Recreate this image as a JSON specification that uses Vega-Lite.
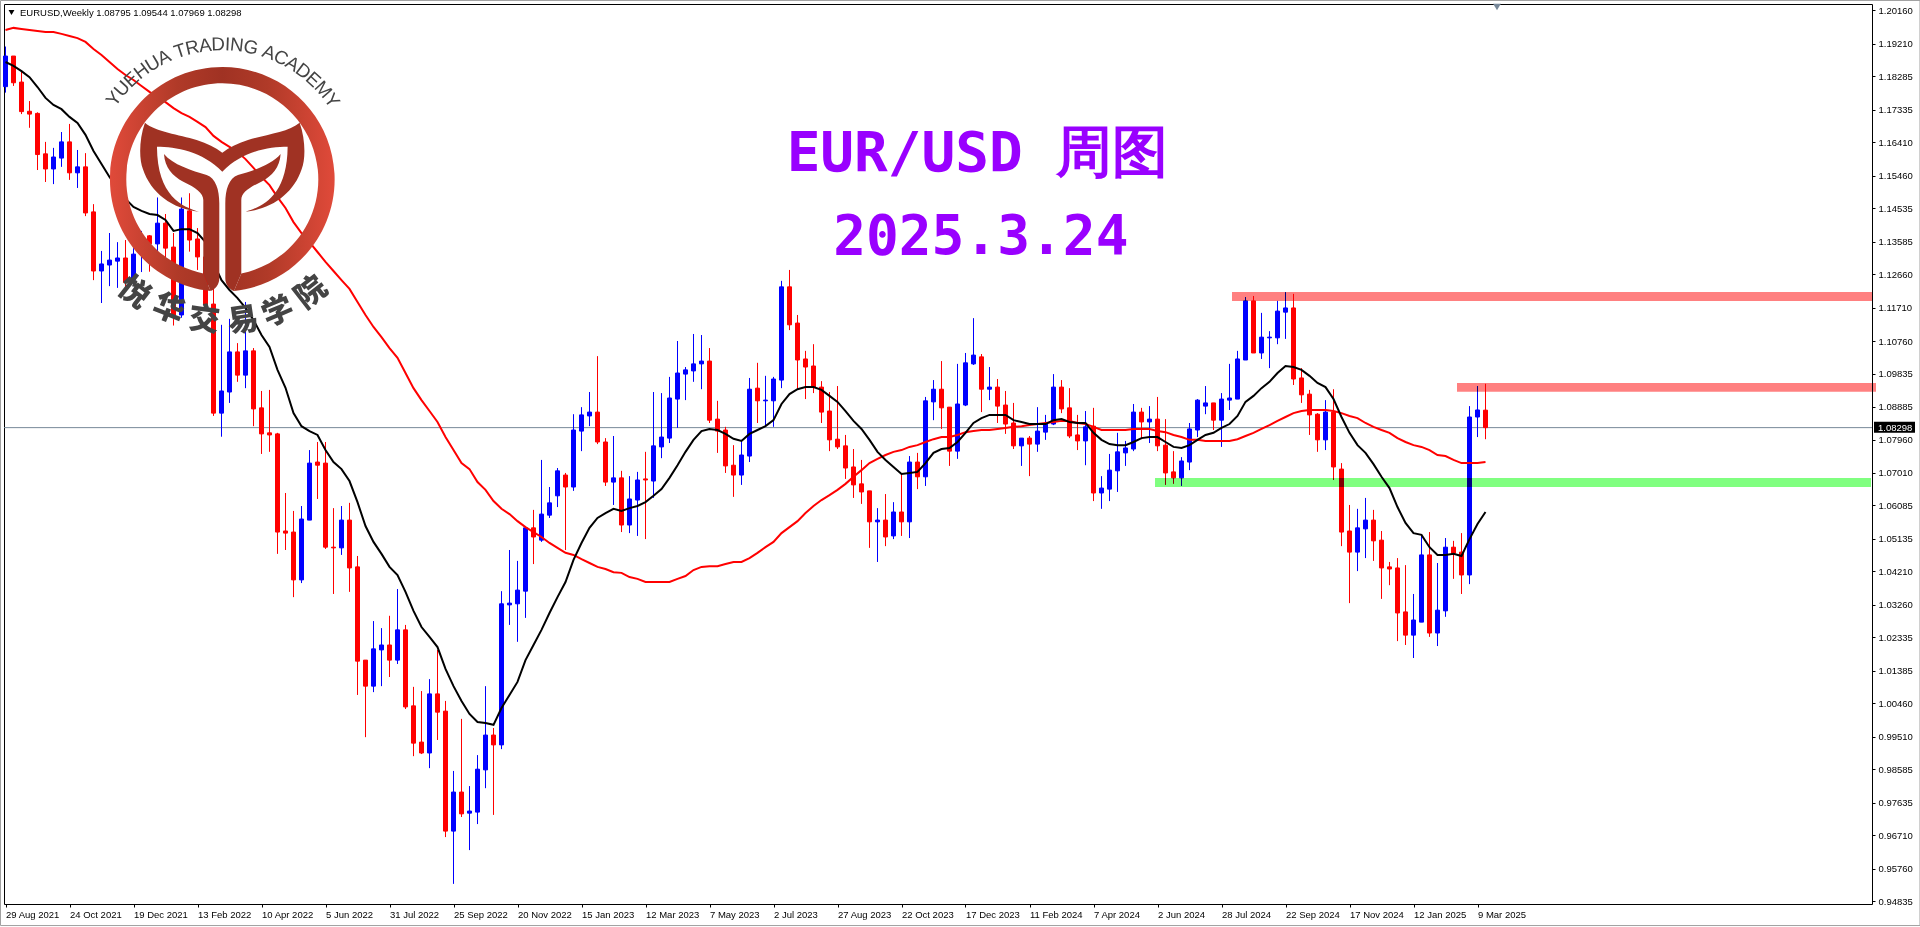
{"$schema":"https://vega.github.io/schema/vega-lite/v6.json","width":1868,"height":900,"autosize":{"type":"none"},"padding":{"left":4,"top":4,"right":48,"bottom":23},"background":"#ffffff","view":{"stroke":"#000000","strokeWidth":1,"fill":"#ffffff"},"config":{"scale":{"continuousPadding":0},"axis":{"labelOverlap":false,"labelSeparation":0}},
"datasets":{"candles":[
{"date":"2021-08-29","open":1.1799,"high":1.1913,"low":1.1782,"close":1.1886,"fast":1.1869,"slow":1.1960},
{"date":"2021-09-05","open":1.1886,"high":1.1886,"low":1.1801,"close":1.1810,"fast":1.1858,"slow":1.1966},
{"date":"2021-09-12","open":1.1812,"high":1.1841,"low":1.1721,"close":1.1728,"fast":1.1843,"slow":1.1963},
{"date":"2021-09-19","open":1.1729,"high":1.1758,"low":1.1682,"close":1.1721,"fast":1.1826,"slow":1.1960},
{"date":"2021-09-26","open":1.1723,"high":1.1726,"low":1.1562,"close":1.1606,"fast":1.1798,"slow":1.1957},
{"date":"2021-10-03","open":1.1608,"high":1.1642,"low":1.1528,"close":1.1565,"fast":1.1767,"slow":1.1954},
{"date":"2021-10-10","open":1.1565,"high":1.1625,"low":1.1522,"close":1.1599,"fast":1.1747,"slow":1.1954},
{"date":"2021-10-17","open":1.1596,"high":1.1670,"low":1.1571,"close":1.1642,"fast":1.1735,"slow":1.1949},
{"date":"2021-10-24","open":1.1642,"high":1.1693,"low":1.1534,"close":1.1554,"fast":1.1713,"slow":1.1943},
{"date":"2021-10-31","open":1.1554,"high":1.1619,"low":1.1511,"close":1.1571,"fast":1.1696,"slow":1.1937},
{"date":"2021-11-07","open":1.1571,"high":1.1610,"low":1.1431,"close":1.1440,"fast":1.1662,"slow":1.1926},
{"date":"2021-11-14","open":1.1443,"high":1.1465,"low":1.1249,"close":1.1275,"fast":1.1616,"slow":1.1906},
{"date":"2021-11-21","open":1.1275,"high":1.1332,"low":1.1184,"close":1.1295,"fast":1.1579,"slow":1.1889},
{"date":"2021-11-28","open":1.1292,"high":1.1383,"low":1.1232,"close":1.1306,"fast":1.1542,"slow":1.1869},
{"date":"2021-12-05","open":1.1303,"high":1.1357,"low":1.1227,"close":1.1312,"fast":1.1511,"slow":1.1849},
{"date":"2021-12-12","open":1.1312,"high":1.1363,"low":1.1221,"close":1.1242,"fast":1.1480,"slow":1.1832},
{"date":"2021-12-19","open":1.1249,"high":1.1340,"low":1.1232,"close":1.1323,"fast":1.1457,"slow":1.1818},
{"date":"2021-12-26","open":1.1323,"high":1.1389,"low":1.1272,"close":1.1375,"fast":1.1446,"slow":1.1801},
{"date":"2022-01-02","open":1.1375,"high":1.1377,"low":1.1273,"close":1.1352,"fast":1.1437,"slow":1.1784},
{"date":"2022-01-09","open":1.1352,"high":1.1484,"low":1.1330,"close":1.1411,"fast":1.1434,"slow":1.1770},
{"date":"2022-01-16","open":1.1411,"high":1.1437,"low":1.1312,"close":1.1340,"fast":1.1420,"slow":1.1755},
{"date":"2022-01-23","open":1.1343,"high":1.1383,"low":1.1120,"close":1.1150,"fast":1.1389,"slow":1.1738},
{"date":"2022-01-30","open":1.1150,"high":1.1484,"low":1.1142,"close":1.1451,"fast":1.1394,"slow":1.1724},
{"date":"2022-02-06","open":1.1446,"high":1.1496,"low":1.1330,"close":1.1363,"fast":1.1394,"slow":1.1713},
{"date":"2022-02-13","open":1.1366,"high":1.1397,"low":1.1278,"close":1.1315,"fast":1.1383,"slow":1.1699},
{"date":"2022-02-20","open":1.1315,"high":1.1335,"low":1.1177,"close":1.1178,"fast":1.1357,"slow":1.1684},
{"date":"2022-02-27","open":1.1181,"high":1.1226,"low":1.0863,"close":1.0871,"fast":1.1298,"slow":1.1659},
{"date":"2022-03-06","open":1.0871,"high":1.1122,"low":1.0804,"close":1.0934,"fast":1.1249,"slow":1.1642},
{"date":"2022-03-13","open":1.0931,"high":1.1139,"low":1.0900,"close":1.1045,"fast":1.1221,"slow":1.1628},
{"date":"2022-03-20","open":1.1045,"high":1.1070,"low":1.0960,"close":1.0979,"fast":1.1198,"slow":1.1613},
{"date":"2022-03-27","open":1.0979,"high":1.1187,"low":1.0942,"close":1.1048,"fast":1.1170,"slow":1.1593},
{"date":"2022-04-03","open":1.1048,"high":1.1056,"low":1.0834,"close":1.0883,"fast":1.1136,"slow":1.1568},
{"date":"2022-04-10","open":1.0886,"high":1.0934,"low":1.0755,"close":1.0812,"fast":1.1093,"slow":1.1542},
{"date":"2022-04-17","open":1.0815,"high":1.0937,"low":1.0761,"close":1.0809,"fast":1.1059,"slow":1.1519},
{"date":"2022-04-24","open":1.0812,"high":1.0815,"low":1.0471,"close":1.0533,"fast":1.0994,"slow":1.1485},
{"date":"2022-05-01","open":1.0536,"high":1.0644,"low":1.0482,"close":1.0530,"fast":1.0943,"slow":1.1454},
{"date":"2022-05-08","open":1.0533,"high":1.0593,"low":1.0348,"close":1.0397,"fast":1.0871,"slow":1.1414},
{"date":"2022-05-15","open":1.0397,"high":1.0607,"low":1.0388,"close":1.0570,"fast":1.0834,"slow":1.1383},
{"date":"2022-05-22","open":1.0567,"high":1.0766,"low":1.0567,"close":1.0729,"fast":1.0820,"slow":1.1357},
{"date":"2022-05-29","open":1.0732,"high":1.0789,"low":1.0627,"close":1.0723,"fast":1.0809,"slow":1.1329},
{"date":"2022-06-05","open":1.0729,"high":1.0789,"low":1.0485,"close":1.0490,"fast":1.0766,"slow":1.1301},
{"date":"2022-06-12","open":1.0490,"high":1.0601,"low":1.0357,"close":1.0488,"fast":1.0732,"slow":1.1275},
{"date":"2022-06-19","open":1.0488,"high":1.0607,"low":1.0468,"close":1.0567,"fast":1.0712,"slow":1.1249},
{"date":"2022-06-26","open":1.0567,"high":1.0616,"low":1.0363,"close":1.0431,"fast":1.0678,"slow":1.1224},
{"date":"2022-07-03","open":1.0434,"high":1.0465,"low":1.0070,"close":1.0166,"fast":1.0618,"slow":1.1187},
{"date":"2022-07-10","open":1.0169,"high":1.0169,"low":0.9950,"close":1.0095,"fast":1.0550,"slow":1.1150},
{"date":"2022-07-17","open":1.0095,"high":1.0280,"low":1.0078,"close":1.0201,"fast":1.0505,"slow":1.1116},
{"date":"2022-07-24","open":1.0198,"high":1.0260,"low":1.0095,"close":1.0212,"fast":1.0471,"slow":1.1087},
{"date":"2022-07-31","open":1.0212,"high":1.0295,"low":1.0121,"close":1.0169,"fast":1.0434,"slow":1.1056},
{"date":"2022-08-07","open":1.0169,"high":1.0371,"low":1.0158,"close":1.0255,"fast":1.0411,"slow":1.1028},
{"date":"2022-08-14","open":1.0255,"high":1.0269,"low":1.0030,"close":1.0036,"fast":1.0363,"slow":1.0985},
{"date":"2022-08-21","open":1.0039,"high":1.0093,"low":0.9896,"close":0.9933,"fast":1.0309,"slow":1.0942},
{"date":"2022-08-28","open":0.9936,"high":1.0081,"low":0.9902,"close":0.9905,"fast":1.0263,"slow":1.0908},
{"date":"2022-09-04","open":0.9905,"high":1.0115,"low":0.9862,"close":1.0073,"fast":1.0235,"slow":1.0877},
{"date":"2022-09-11","open":1.0073,"high":1.0198,"low":0.9942,"close":1.0021,"fast":1.0206,"slow":1.0846},
{"date":"2022-09-18","open":1.0024,"high":1.0053,"low":0.9666,"close":0.9683,"fast":1.0144,"slow":1.0803},
{"date":"2022-09-25","open":0.9683,"high":0.9854,"low":0.9533,"close":0.9794,"fast":1.0095,"slow":1.0766},
{"date":"2022-10-02","open":0.9794,"high":1.0002,"low":0.9723,"close":0.9732,"fast":1.0053,"slow":1.0729},
{"date":"2022-10-09","open":0.9734,"high":0.9811,"low":0.9629,"close":0.9740,"fast":1.0016,"slow":1.0712},
{"date":"2022-10-16","open":0.9737,"high":0.9899,"low":0.9703,"close":0.9859,"fast":0.9993,"slow":1.0675},
{"date":"2022-10-23","open":0.9857,"high":1.0095,"low":0.9805,"close":0.9956,"fast":0.9990,"slow":1.0653},
{"date":"2022-10-30","open":0.9956,"high":0.9976,"low":0.9729,"close":0.9928,"fast":0.9985,"slow":1.0621},
{"date":"2022-11-06","open":0.9928,"high":1.0365,"low":0.9916,"close":1.0329,"fast":1.0033,"slow":1.0599},
{"date":"2022-11-13","open":1.0326,"high":1.0482,"low":1.0269,"close":1.0331,"fast":1.0070,"slow":1.0584},
{"date":"2022-11-20","open":1.0329,"high":1.0451,"low":1.0221,"close":1.0368,"fast":1.0107,"slow":1.0564},
{"date":"2022-11-27","open":1.0365,"high":1.0545,"low":1.0289,"close":1.0545,"fast":1.0169,"slow":1.0547},
{"date":"2022-12-04","open":1.0545,"high":1.0596,"low":1.0442,"close":1.0519,"fast":1.0212,"slow":1.0533},
{"date":"2022-12-11","open":1.0510,"high":1.0738,"low":1.0505,"close":1.0584,"fast":1.0255,"slow":1.0519},
{"date":"2022-12-18","open":1.0581,"high":1.0661,"low":1.0573,"close":1.0616,"fast":1.0303,"slow":1.0502},
{"date":"2022-12-25","open":1.0636,"high":1.0715,"low":1.0604,"close":1.0707,"fast":1.0348,"slow":1.0488},
{"date":"2023-01-01","open":1.0695,"high":1.0701,"low":1.0482,"close":1.0661,"fast":1.0391,"slow":1.0474},
{"date":"2023-01-08","open":1.0661,"high":1.0868,"low":1.0650,"close":1.0823,"fast":1.0454,"slow":1.0468},
{"date":"2023-01-15","open":1.0820,"high":1.0888,"low":1.0763,"close":1.0866,"fast":1.0502,"slow":1.0456},
{"date":"2023-01-22","open":1.0863,"high":1.0931,"low":1.0834,"close":1.0874,"fast":1.0545,"slow":1.0445},
{"date":"2023-01-29","open":1.0874,"high":1.1033,"low":1.0783,"close":1.0789,"fast":1.0573,"slow":1.0434},
{"date":"2023-02-05","open":1.0789,"high":1.0800,"low":1.0664,"close":1.0675,"fast":1.0587,"slow":1.0428},
{"date":"2023-02-12","open":1.0675,"high":1.0806,"low":1.0610,"close":1.0687,"fast":1.0599,"slow":1.0419},
{"date":"2023-02-19","open":1.0687,"high":1.0707,"low":1.0533,"close":1.0553,"fast":1.0593,"slow":1.0417},
{"date":"2023-02-26","open":1.0553,"high":1.0692,"low":1.0530,"close":1.0627,"fast":1.0601,"slow":1.0405},
{"date":"2023-03-05","open":1.0624,"high":1.0704,"low":1.0522,"close":1.0681,"fast":1.0607,"slow":1.0400},
{"date":"2023-03-12","open":1.0684,"high":1.0761,"low":1.0513,"close":1.0681,"fast":1.0618,"slow":1.0391},
{"date":"2023-03-19","open":1.0678,"high":1.0931,"low":1.0630,"close":1.0778,"fast":1.0636,"slow":1.0391},
{"date":"2023-03-26","open":1.0775,"high":1.0928,"low":1.0743,"close":1.0803,"fast":1.0655,"slow":1.0391},
{"date":"2023-04-02","open":1.0800,"high":1.0974,"low":1.0786,"close":1.0914,"fast":1.0687,"slow":1.0391},
{"date":"2023-04-09","open":1.0911,"high":1.1076,"low":1.0829,"close":1.0985,"fast":1.0723,"slow":1.0400},
{"date":"2023-04-16","open":1.0982,"high":1.1002,"low":1.0908,"close":1.0994,"fast":1.0761,"slow":1.0408},
{"date":"2023-04-23","open":1.0991,"high":1.1096,"low":1.0960,"close":1.1011,"fast":1.0795,"slow":1.0425},
{"date":"2023-04-30","open":1.1011,"high":1.1093,"low":1.0939,"close":1.1019,"fast":1.0820,"slow":1.0434},
{"date":"2023-05-07","open":1.1019,"high":1.1056,"low":1.0843,"close":1.0851,"fast":1.0826,"slow":1.0436},
{"date":"2023-05-14","open":1.0854,"high":1.0906,"low":1.0758,"close":1.0820,"fast":1.0823,"slow":1.0436},
{"date":"2023-05-21","open":1.0823,"high":1.0832,"low":1.0701,"close":1.0721,"fast":1.0812,"slow":1.0442},
{"date":"2023-05-28","open":1.0723,"high":1.0780,"low":1.0633,"close":1.0695,"fast":1.0798,"slow":1.0448},
{"date":"2023-06-04","open":1.0695,"high":1.0795,"low":1.0667,"close":1.0752,"fast":1.0792,"slow":1.0448},
{"date":"2023-06-11","open":1.0749,"high":1.0971,"low":1.0732,"close":1.0939,"fast":1.0812,"slow":1.0459},
{"date":"2023-06-18","open":1.0942,"high":1.1014,"low":1.0843,"close":1.0906,"fast":1.0823,"slow":1.0474},
{"date":"2023-06-25","open":1.0906,"high":1.0977,"low":1.0834,"close":1.0908,"fast":1.0834,"slow":1.0490},
{"date":"2023-07-02","open":1.0906,"high":1.0974,"low":1.0832,"close":1.0968,"fast":1.0851,"slow":1.0505},
{"date":"2023-07-09","open":1.0965,"high":1.1247,"low":1.0942,"close":1.1230,"fast":1.0897,"slow":1.0530},
{"date":"2023-07-16","open":1.1230,"high":1.1278,"low":1.1107,"close":1.1122,"fast":1.0925,"slow":1.0547},
{"date":"2023-07-23","open":1.1127,"high":1.1150,"low":1.0939,"close":1.1022,"fast":1.0939,"slow":1.0564},
{"date":"2023-07-30","open":1.1025,"high":1.1048,"low":1.0911,"close":1.1002,"fast":1.0945,"slow":1.0587},
{"date":"2023-08-06","open":1.1005,"high":1.1067,"low":1.0928,"close":1.0945,"fast":1.0945,"slow":1.0607},
{"date":"2023-08-13","open":1.0945,"high":1.0962,"low":1.0843,"close":1.0874,"fast":1.0937,"slow":1.0624},
{"date":"2023-08-20","open":1.0877,"high":1.0931,"low":1.0763,"close":1.0795,"fast":1.0920,"slow":1.0638},
{"date":"2023-08-27","open":1.0797,"high":1.0948,"low":1.0769,"close":1.0775,"fast":1.0903,"slow":1.0653},
{"date":"2023-09-03","open":1.0778,"high":1.0809,"low":1.0684,"close":1.0715,"fast":1.0877,"slow":1.0670},
{"date":"2023-09-10","open":1.0718,"high":1.0769,"low":1.0630,"close":1.0667,"fast":1.0849,"slow":1.0690},
{"date":"2023-09-17","open":1.0670,"high":1.0738,"low":1.0613,"close":1.0647,"fast":1.0826,"slow":1.0709},
{"date":"2023-09-24","open":1.0650,"high":1.0650,"low":1.0488,"close":1.0562,"fast":1.0795,"slow":1.0729},
{"date":"2023-10-01","open":1.0562,"high":1.0601,"low":1.0448,"close":1.0567,"fast":1.0761,"slow":1.0741},
{"date":"2023-10-08","open":1.0567,"high":1.0641,"low":1.0493,"close":1.0519,"fast":1.0738,"slow":1.0752},
{"date":"2023-10-15","open":1.0522,"high":1.0618,"low":1.0513,"close":1.0590,"fast":1.0718,"slow":1.0761},
{"date":"2023-10-22","open":1.0590,"high":1.0698,"low":1.0522,"close":1.0562,"fast":1.0698,"slow":1.0766},
{"date":"2023-10-29","open":1.0562,"high":1.0749,"low":1.0516,"close":1.0732,"fast":1.0701,"slow":1.0775},
{"date":"2023-11-05","open":1.0732,"high":1.0758,"low":1.0655,"close":1.0690,"fast":1.0704,"slow":1.0780},
{"date":"2023-11-12","open":1.0690,"high":1.0917,"low":1.0664,"close":1.0906,"fast":1.0729,"slow":1.0789},
{"date":"2023-11-19","open":1.0903,"high":1.0965,"low":1.0851,"close":1.0939,"fast":1.0758,"slow":1.0797},
{"date":"2023-11-26","open":1.0939,"high":1.1019,"low":1.0826,"close":1.0886,"fast":1.0769,"slow":1.0803},
{"date":"2023-12-03","open":1.0888,"high":1.0888,"low":1.0721,"close":1.0763,"fast":1.0772,"slow":1.0803},
{"date":"2023-12-10","open":1.0763,"high":1.1011,"low":1.0741,"close":1.0897,"fast":1.0789,"slow":1.0809},
{"date":"2023-12-17","open":1.0894,"high":1.1042,"low":1.0891,"close":1.1014,"fast":1.0815,"slow":1.0817},
{"date":"2023-12-24","open":1.1011,"high":1.1141,"low":1.1008,"close":1.1036,"fast":1.0843,"slow":1.0820},
{"date":"2023-12-31","open":1.1031,"high":1.1039,"low":1.0874,"close":1.0939,"fast":1.0857,"slow":1.0823},
{"date":"2024-01-07","open":1.0939,"high":1.1002,"low":1.0908,"close":1.0945,"fast":1.0866,"slow":1.0823},
{"date":"2024-01-14","open":1.0945,"high":1.0968,"low":1.0843,"close":1.0891,"fast":1.0866,"slow":1.0826},
{"date":"2024-01-21","open":1.0894,"high":1.0934,"low":1.0812,"close":1.0840,"fast":1.0866,"slow":1.0829},
{"date":"2024-01-28","open":1.0843,"high":1.0900,"low":1.0769,"close":1.0778,"fast":1.0851,"slow":1.0832},
{"date":"2024-02-04","open":1.0778,"high":1.0800,"low":1.0721,"close":1.0800,"fast":1.0846,"slow":1.0834},
{"date":"2024-02-11","open":1.0800,"high":1.0806,"low":1.0692,"close":1.0783,"fast":1.0840,"slow":1.0837},
{"date":"2024-02-18","open":1.0783,"high":1.0888,"low":1.0761,"close":1.0820,"fast":1.0840,"slow":1.0840},
{"date":"2024-02-25","open":1.0817,"high":1.0866,"low":1.0795,"close":1.0840,"fast":1.0840,"slow":1.0843},
{"date":"2024-03-03","open":1.0840,"high":1.0982,"low":1.0837,"close":1.0945,"fast":1.0851,"slow":1.0846},
{"date":"2024-03-10","open":1.0945,"high":1.0965,"low":1.0871,"close":1.0883,"fast":1.0854,"slow":1.0849},
{"date":"2024-03-17","open":1.0886,"high":1.0942,"low":1.0800,"close":1.0806,"fast":1.0846,"slow":1.0849},
{"date":"2024-03-24","open":1.0809,"high":1.0866,"low":1.0766,"close":1.0792,"fast":1.0843,"slow":1.0843},
{"date":"2024-03-31","open":1.0792,"high":1.0877,"low":1.0723,"close":1.0832,"fast":1.0843,"slow":1.0840},
{"date":"2024-04-07","open":1.0834,"high":1.0886,"low":1.0621,"close":1.0644,"fast":1.0815,"slow":1.0832},
{"date":"2024-04-14","open":1.0644,"high":1.0692,"low":1.0599,"close":1.0658,"fast":1.0795,"slow":1.0823},
{"date":"2024-04-21","open":1.0655,"high":1.0755,"low":1.0621,"close":1.0709,"fast":1.0783,"slow":1.0823},
{"date":"2024-04-28","open":1.0707,"high":1.0815,"low":1.0647,"close":1.0761,"fast":1.0780,"slow":1.0823},
{"date":"2024-05-05","open":1.0758,"high":1.0792,"low":1.0721,"close":1.0772,"fast":1.0780,"slow":1.0823},
{"date":"2024-05-12","open":1.0769,"high":1.0897,"low":1.0763,"close":1.0874,"fast":1.0789,"slow":1.0826},
{"date":"2024-05-19","open":1.0874,"high":1.0886,"low":1.0797,"close":1.0846,"fast":1.0800,"slow":1.0826},
{"date":"2024-05-26","open":1.0846,"high":1.0891,"low":1.0786,"close":1.0854,"fast":1.0803,"slow":1.0826},
{"date":"2024-06-02","open":1.0854,"high":1.0917,"low":1.0763,"close":1.0778,"fast":1.0803,"slow":1.0820},
{"date":"2024-06-09","open":1.0780,"high":1.0854,"low":1.0667,"close":1.0701,"fast":1.0789,"slow":1.0817},
{"date":"2024-06-16","open":1.0704,"high":1.0763,"low":1.0670,"close":1.0687,"fast":1.0775,"slow":1.0809},
{"date":"2024-06-23","open":1.0687,"high":1.0746,"low":1.0664,"close":1.0735,"fast":1.0772,"slow":1.0803},
{"date":"2024-06-30","open":1.0732,"high":1.0843,"low":1.0709,"close":1.0826,"fast":1.0780,"slow":1.0795},
{"date":"2024-07-07","open":1.0823,"high":1.0911,"low":1.0803,"close":1.0908,"fast":1.0795,"slow":1.0795},
{"date":"2024-07-14","open":1.0891,"high":1.0948,"low":1.0868,"close":1.0900,"fast":1.0809,"slow":1.0792},
{"date":"2024-07-21","open":1.0900,"high":1.0900,"low":1.0823,"close":1.0851,"fast":1.0815,"slow":1.0792},
{"date":"2024-07-28","open":1.0851,"high":1.0928,"low":1.0775,"close":1.0911,"fast":1.0829,"slow":1.0792},
{"date":"2024-08-04","open":1.0908,"high":1.1011,"low":1.0880,"close":1.0914,"fast":1.0840,"slow":1.0792},
{"date":"2024-08-11","open":1.0911,"high":1.1048,"low":1.0911,"close":1.1025,"fast":1.0863,"slow":1.0797},
{"date":"2024-08-18","open":1.1022,"high":1.1201,"low":1.1022,"close":1.1190,"fast":1.0903,"slow":1.0806},
{"date":"2024-08-25","open":1.1190,"high":1.1204,"low":1.1042,"close":1.1042,"fast":1.0920,"slow":1.0815},
{"date":"2024-09-01","open":1.1042,"high":1.1156,"low":1.1025,"close":1.1087,"fast":1.0942,"slow":1.0826},
{"date":"2024-09-08","open":1.1085,"high":1.1104,"low":1.0999,"close":1.1087,"fast":1.0960,"slow":1.0837},
{"date":"2024-09-15","open":1.1085,"high":1.1190,"low":1.1067,"close":1.1161,"fast":1.0985,"slow":1.0849},
{"date":"2024-09-22","open":1.1158,"high":1.1215,"low":1.1082,"close":1.1170,"fast":1.1005,"slow":1.0860},
{"date":"2024-09-29","open":1.1170,"high":1.1210,"low":1.0951,"close":1.0968,"fast":1.1002,"slow":1.0871},
{"date":"2024-10-06","open":1.0971,"high":1.0999,"low":1.0900,"close":1.0923,"fast":1.0994,"slow":1.0877},
{"date":"2024-10-13","open":1.0925,"high":1.0937,"low":1.0809,"close":1.0866,"fast":1.0977,"slow":1.0880},
{"date":"2024-10-20","open":1.0868,"high":1.0871,"low":1.0761,"close":1.0795,"fast":1.0957,"slow":1.0880},
{"date":"2024-10-27","open":1.0795,"high":1.0908,"low":1.0766,"close":1.0874,"fast":1.0945,"slow":1.0880},
{"date":"2024-11-03","open":1.0874,"high":1.0939,"low":1.0681,"close":1.0718,"fast":1.0911,"slow":1.0877},
{"date":"2024-11-10","open":1.0712,"high":1.0729,"low":1.0493,"close":1.0533,"fast":1.0860,"slow":1.0871},
{"date":"2024-11-17","open":1.0536,"high":1.0610,"low":1.0331,"close":1.0476,"fast":1.0815,"slow":1.0863},
{"date":"2024-11-24","open":1.0476,"high":1.0599,"low":1.0422,"close":1.0545,"fast":1.0780,"slow":1.0857},
{"date":"2024-12-01","open":1.0542,"high":1.0630,"low":1.0459,"close":1.0567,"fast":1.0758,"slow":1.0843},
{"date":"2024-12-08","open":1.0567,"high":1.0596,"low":1.0451,"close":1.0508,"fast":1.0726,"slow":1.0832},
{"date":"2024-12-15","open":1.0510,"high":1.0536,"low":1.0343,"close":1.0431,"fast":1.0690,"slow":1.0823},
{"date":"2024-12-22","open":1.0434,"high":1.0448,"low":1.0382,"close":1.0428,"fast":1.0658,"slow":1.0815},
{"date":"2024-12-29","open":1.0431,"high":1.0459,"low":1.0223,"close":1.0303,"fast":1.0604,"slow":1.0800},
{"date":"2025-01-05","open":1.0306,"high":1.0439,"low":1.0212,"close":1.0240,"fast":1.0559,"slow":1.0789},
{"date":"2025-01-12","open":1.0240,"high":1.0357,"low":1.0175,"close":1.0283,"fast":1.0530,"slow":1.0780},
{"date":"2025-01-19","open":1.0277,"high":1.0525,"low":1.0277,"close":1.0468,"fast":1.0525,"slow":1.0775},
{"date":"2025-01-26","open":1.0468,"high":1.0533,"low":1.0235,"close":1.0246,"fast":1.0490,"slow":1.0766},
{"date":"2025-02-02","open":1.0246,"high":1.0445,"low":1.0209,"close":1.0311,"fast":1.0468,"slow":1.0752},
{"date":"2025-02-09","open":1.0309,"high":1.0516,"low":1.0292,"close":1.0490,"fast":1.0468,"slow":1.0749},
{"date":"2025-02-16","open":1.0490,"high":1.0508,"low":1.0400,"close":1.0473,"fast":1.0471,"slow":1.0738},
{"date":"2025-02-23","open":1.0476,"high":1.0530,"low":1.0357,"close":1.0411,"fast":1.0465,"slow":1.0729},
{"date":"2025-03-02","open":1.0411,"high":1.0891,"low":1.0385,"close":1.0860,"fast":1.0513,"slow":1.0729},
{"date":"2025-03-09","open":1.0860,"high":1.0948,"low":1.0803,"close":1.0880,"fast":1.0556,"slow":1.0729},
{"date":"2025-03-16","open":1.08795,"high":1.09544,"low":1.07969,"close":1.08298,"fast":1.0590,"slow":1.0732}
]},
"layer":[
{"data":{"values":[{"from":1629817200000,"to":1774931400000,"top":1.20439,"bottom":0.94146}]},"mark":{"type":"rect","fillOpacity":0,"stroke":"#a0a0a0","strokeWidth":1},"encoding":{"x":{"field":"from","type":"temporal","scale":{"type":"utc","domain":[1630081800000,1771302600000]},"axis":{"values":[1630195200000,1635033600000,1639872000000,1644710400000,1649548800000,1654387200000,1659225600000,1664064000000,1668902400000,1673740800000,1678579200000,1683417600000,1688256000000,1693094400000,1697932800000,1702771200000,1707609600000,1712448000000,1717286400000,1722124800000,1726963200000,1731801600000,1736640000000,1741478400000],"tickCount":60,"format":"%-d %b %Y","title":null,"grid":false,"domain":false,"tickColor":"#000000","tickSize":3,"labelFont":"Liberation Sans","labelFontSize":9.5,"labelColor":"#000000","labelAlign":"left","labelPadding":2,"labelOverlap":false,"labelFlush":false,"labelBound":false}},"x2":{"field":"to"},"y":{"field":"top","type":"quantitative","scale":{"zero":false,"nice":false,"domain":[0.94758,1.20339]},"axis":{"orient":"right","values":[1.2016,1.1921,1.18285,1.17335,1.1641,1.1546,1.14535,1.13585,1.1266,1.1171,1.1076,1.09835,1.08885,1.0796,1.0701,1.06085,1.05135,1.0421,1.0326,1.02335,1.01385,1.0046,0.9951,0.98585,0.97635,0.9671,0.9576,0.94835],"tickCount":60,"format":".5f","title":null,"grid":false,"domain":false,"tickColor":"#000000","tickSize":3,"labelFont":"Liberation Sans","labelFontSize":9.5,"labelColor":"#000000","labelPadding":3,"labelOverlap":false,"labelBound":false}},"y2":{"field":"bottom"}}},
{"data":{"values":[{"from":1630081800000,"to":1771302600000,"price":1.08298}]},"mark":{"type":"rule","color":"#778899","strokeWidth":1},"encoding":{"x":{"field":"from","type":"temporal","scale":{"type":"utc","domain":[1630081800000,1771302600000]}},"x2":{"field":"to"},"y":{"field":"price","type":"quantitative","scale":{"zero":false,"nice":false,"domain":[0.94758,1.20339]}}}},
{"data":{"name":"candles"},"mark":{"type":"rule","strokeWidth":1},"encoding":{"x":{"field":"date","type":"temporal","scale":{"type":"utc","domain":[1630081800000,1771302600000]}},"y":{"field":"low","type":"quantitative","scale":{"zero":false,"nice":false,"domain":[0.94758,1.20339]}},"y2":{"field":"high"},"color":{"condition":{"test":"datum.close >= datum.open","value":"#0000ff"},"value":"#ff0000"}}},
{"data":{"name":"candles"},"mark":{"type":"bar","width":4,"strokeWidth":1},"encoding":{"x":{"field":"date","type":"temporal","scale":{"type":"utc","domain":[1630081800000,1771302600000]}},"y":{"field":"open","type":"quantitative","scale":{"zero":false,"nice":false,"domain":[0.94758,1.20339]}},"y2":{"field":"close"},"fill":{"condition":{"test":"datum.close >= datum.open","value":"#0000ff"},"value":"#ff0000"},"stroke":{"condition":{"test":"datum.close >= datum.open","value":"#0000ff"},"value":"#ff0000"}}},
{"data":{"name":"candles"},"mark":{"type":"line","color":"#ff0000","strokeWidth":2,"interpolate":"linear"},"encoding":{"x":{"field":"date","type":"temporal","scale":{"type":"utc","domain":[1630081800000,1771302600000]}},"y":{"field":"slow","type":"quantitative","scale":{"zero":false,"nice":false,"domain":[0.94758,1.20339]}}}},
{"data":{"name":"candles"},"mark":{"type":"line","color":"#000000","strokeWidth":2,"interpolate":"linear"},"encoding":{"x":{"field":"date","type":"temporal","scale":{"type":"utc","domain":[1630081800000,1771302600000]}},"y":{"field":"fast","type":"quantitative","scale":{"zero":false,"nice":false,"domain":[0.94758,1.20339]}}}},
{"data":{"values":[{"kind":"resistance","from":1722918600000,"to":1771302600000,"top":1.12153,"bottom":1.11897},{"kind":"resistance","from":1739928600000,"to":1771605000000,"top":1.09566,"bottom":1.09319},{"kind":"support","from":1717097400000,"to":1771227000000,"top":1.06866,"bottom":1.0661}]},"mark":{"type":"rect","blend":"multiply"},"encoding":{"x":{"field":"from","type":"temporal","scale":{"type":"utc","domain":[1630081800000,1771302600000]}},"x2":{"field":"to"},"y":{"field":"top","type":"quantitative","scale":{"zero":false,"nice":false,"domain":[0.94758,1.20339]}},"y2":{"field":"bottom"},"color":{"field":"kind","type":"nominal","legend":null,"scale":{"domain":["resistance","support"],"range":["#ff8080","#80ff80"]}}}},
{"data":{"values":[{"from":1771453800000,"to":1774553400000,"top":1.08466,"bottom":1.08154}]},"mark":{"type":"rect","color":"#000000"},"encoding":{"x":{"field":"from","type":"temporal","scale":{"type":"utc","domain":[1630081800000,1771302600000]}},"x2":{"field":"to"},"y":{"field":"top","type":"quantitative","scale":{"zero":false,"nice":false,"domain":[0.94758,1.20339]}},"y2":{"field":"bottom"}}},
{"data":{"values":[{"at":1771756200000,"price":1.08298,"label":"1.08298"}]},"mark":{"type":"text","align":"left","baseline":"middle","font":"Liberation Sans","fontSize":9.5,"color":"#ffffff"},"encoding":{"x":{"field":"at","type":"temporal","scale":{"type":"utc","domain":[1630081800000,1771302600000]}},"y":{"field":"price","type":"quantitative","scale":{"zero":false,"nice":false,"domain":[0.94758,1.20339]}},"text":{"field":"label"}}},
{"data":{"values":[{"at":1631291400000,"price":1.19998,"label":"EURUSD,Weekly  1.08795 1.09544 1.07969 1.08298"}]},"mark":{"type":"text","align":"left","baseline":"alphabetic","font":"Liberation Sans","fontSize":9.5,"color":"#000000"},"encoding":{"x":{"field":"at","type":"temporal","scale":{"type":"utc","domain":[1630081800000,1771302600000]}},"y":{"field":"price","type":"quantitative","scale":{"zero":false,"nice":false,"domain":[0.94758,1.20339]}},"text":{"field":"label"}}},
{"data":{"values":[{"at":1630648800000,"price":1.20098}]},"mark":{"type":"point","shape":"triangle-down","filled":true,"size":35,"color":"#000000","opacity":1},"encoding":{"x":{"field":"at","type":"temporal","scale":{"type":"utc","domain":[1630081800000,1771302600000]}},"y":{"field":"price","type":"quantitative","scale":{"zero":false,"nice":false,"domain":[0.94758,1.20339]}}}},
{"data":{"values":[{"at":1742952600000,"price":1.20254}]},"mark":{"type":"point","shape":"triangle-down","filled":true,"size":60,"color":"#778899","opacity":1},"encoding":{"x":{"field":"at","type":"temporal","scale":{"type":"utc","domain":[1630081800000,1771302600000]}},"y":{"field":"price","type":"quantitative","scale":{"zero":false,"nice":false,"domain":[0.94758,1.20339]}}}},
{"data":{"values":[{"at":1703678400000,"price":1.15601,"label":"EUR/USD 周图"}]},"mark":{"type":"text","align":"center","baseline":"alphabetic","font":"DejaVu Sans Mono","fontWeight":"bold","fontSize":56,"color":"#9900ff"},"encoding":{"x":{"field":"at","type":"temporal","scale":{"type":"utc","domain":[1630081800000,1771302600000]}},"y":{"field":"price","type":"quantitative","scale":{"zero":false,"nice":false,"domain":[0.94758,1.20339]}},"text":{"field":"label"}}},
{"data":{"values":[{"at":1703928960000,"price":1.13233,"label":"2025.3.24"}]},"mark":{"type":"text","align":"center","baseline":"alphabetic","font":"DejaVu Sans Mono","fontWeight":"bold","fontSize":54.5,"color":"#9900ff"},"encoding":{"x":{"field":"at","type":"temporal","scale":{"type":"utc","domain":[1630081800000,1771302600000]}},"y":{"field":"price","type":"quantitative","scale":{"zero":false,"nice":false,"domain":[0.94758,1.20339]}},"text":{"field":"label"}}},
{"data":{"values":[{"at":1646585280000,"price":1.15356}]},"mark":{"type":"point","filled":true,"opacity":1,"size":4444.4,"strokeWidth":0,"shape":"M-0.35,3.352A3.37,3.37,0,1,1,0.35,3.352L0.57,2.823A2.88,2.88,0,1,0,-0.57,2.823Z","fill":{"gradient":"linear","x1":0,"y1":0,"x2":1,"y2":0,"stops":[{"offset":0,"color":"#e04a3a"},{"offset":0.3,"color":"#b03a28"},{"offset":0.5,"color":"#a03223"},{"offset":0.7,"color":"#b03a28"},{"offset":1,"color":"#e04a3a"}]}},"encoding":{"x":{"field":"at","type":"temporal","scale":{"type":"utc","domain":[1630081800000,1771302600000]}},"y":{"field":"price","type":"quantitative","scale":{"zero":false,"nice":false,"domain":[0.94758,1.20339]}}}},
{"data":{"values":[{"at":1646585280000,"price":1.15356}]},"mark":{"type":"point","filled":true,"opacity":1,"size":4444.4,"strokeWidth":0,"color":"#a03223","shape":"M-2.32,-1.7C-2,-1.42,-1.3,-1.35,-0.77,-1.18C-0.45,-1.08,-0.2,-0.95,0,-0.8C0.2,-0.95,0.45,-1.08,0.77,-1.18C1.3,-1.35,2,-1.42,2.32,-1.7C2.5,-1.2,2.5,-0.6,2.38,-0.3C2.15,0.4,1.5,0.9,0.7,0.97C1.2,0.82,1.95,0.5,1.96,-0.98C1.4,-0.98,0.6,-0.85,0,-0.23C-0.6,-0.85,-1.4,-0.98,-1.96,-0.98C-1.95,0.5,-1.2,0.82,-0.7,0.97C-1.5,0.9,-2.15,0.4,-2.38,-0.3C-2.5,-0.6,-2.5,-1.2,-2.32,-1.7ZM-1.75,-0.76C-1.5,-0.45,-0.9,-0.25,-0.47,-0.13C-0.2,-0.03,-0.09,0.3,-0.09,0.72L-0.09,2.97C-0.09,3.15,-0.2,3.3,-0.35,3.352L-0.57,2.823L-0.57,0.62C-0.57,0.4,-0.8,0.25,-1.17,0.07C-1.5,-0.1,-1.72,-0.35,-1.75,-0.76ZM1.75,-0.76C1.5,-0.45,0.9,-0.25,0.47,-0.13C0.2,-0.03,0.09,0.3,0.09,0.72L0.09,2.97C0.09,3.15,0.2,3.3,0.35,3.352L0.57,2.823L0.57,0.62C0.57,0.4,0.8,0.25,1.17,0.07C1.5,-0.1,1.72,-0.35,1.75,-0.76Z"},"encoding":{"x":{"field":"at","type":"temporal","scale":{"type":"utc","domain":[1630081800000,1771302600000]}},"y":{"field":"price","type":"quantitative","scale":{"zero":false,"nice":false,"domain":[0.94758,1.20339]}}}},
{"data":{"values":[{"label":"Y","at":1638390200000,"price":1.17645,"tilt":-53.4},{"label":"U","at":1639017700000,"price":1.17932,"tilt":-47.86},{"label":"E","at":1639713200000,"price":1.18193,"tilt":-42.32},{"label":"H","at":1640476800000,"price":1.18429,"tilt":-36.78},{"label":"U","at":1641323500000,"price":1.18645,"tilt":-31.02},{"label":"A","at":1642192900000,"price":1.18821,"tilt":-25.48},{"label":"T","at":1643402500000,"price":1.19003,"tilt":-18.16},{"label":"R","at":1644317300000,"price":1.19097,"tilt":-12.84},{"label":"A","at":1645285000000,"price":1.19162,"tilt":-7.31},{"label":"D","at":1646275300000,"price":1.19191,"tilt":-1.76},{"label":"I","at":1646986000000,"price":1.19191,"tilt":2.23},{"label":"N","at":1647689000000,"price":1.19171,"tilt":6.22},{"label":"G","at":1648739900000,"price":1.19105,"tilt":12.2},{"label":"A","at":1650108200000,"price":1.18958,"tilt":20.18},{"label":"C","at":1651015400000,"price":1.18813,"tilt":25.72},{"label":"A","at":1651884800000,"price":1.18637,"tilt":31.26},{"label":"D","at":1652701300000,"price":1.18429,"tilt":36.8},{"label":"E","at":1653457300000,"price":1.18193,"tilt":42.34},{"label":"M","at":1654205800000,"price":1.17906,"tilt":48.33},{"label":"Y","at":1654871000000,"price":1.17596,"tilt":54.3}]},"mark":{"type":"text","align":"center","baseline":"middle","font":"Liberation Sans","fontSize":18.8,"color":"#444444"},"encoding":{"x":{"field":"at","type":"temporal","scale":{"type":"utc","domain":[1630081800000,1771302600000]}},"y":{"field":"price","type":"quantitative","scale":{"zero":false,"nice":false,"domain":[0.94758,1.20339]}},"text":{"field":"label"},"angle":{"field":"tilt","type":"quantitative","scale":null}}},
{"data":{"values":[{"label":"悦","at":1639856900000,"price":1.12116,"tilt":38},{"label":"华","at":1642502900000,"price":1.11641,"tilt":22},{"label":"交","at":1645201800000,"price":1.11337,"tilt":7.4},{"label":"易","at":1648172900000,"price":1.11309,"tilt":-8.4},{"label":"学","at":1650818900000,"price":1.11565,"tilt":-22.8},{"label":"院","at":1653343900000,"price":1.12116,"tilt":-38}]},"mark":{"type":"text","align":"center","baseline":"middle","font":"Noto Sans CJK SC","fontWeight":900,"fontSize":31,"color":"#444444"},"encoding":{"x":{"field":"at","type":"temporal","scale":{"type":"utc","domain":[1630081800000,1771302600000]}},"y":{"field":"price","type":"quantitative","scale":{"zero":false,"nice":false,"domain":[0.94758,1.20339]}},"text":{"field":"label"},"angle":{"field":"tilt","type":"quantitative","scale":null}}}
]}
